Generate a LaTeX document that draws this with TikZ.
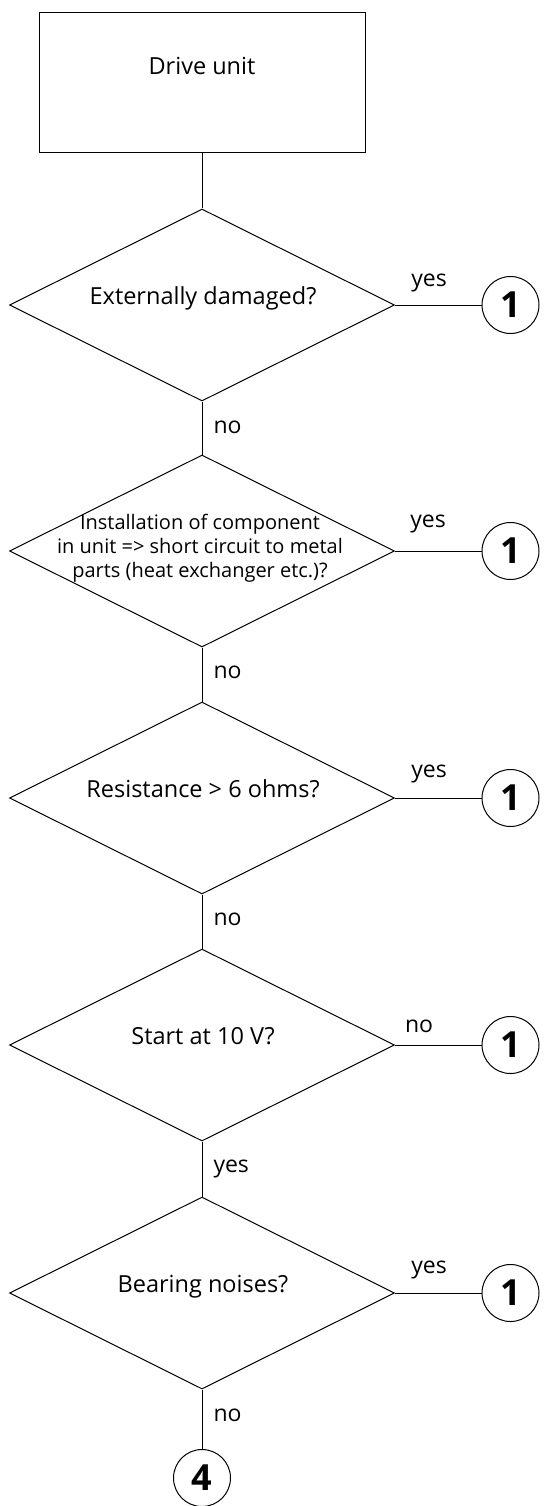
\documentclass[tikz,border=0pt]{standalone}
\usepackage{fontspec}
\setmainfont{Open Sans}
\usetikzlibrary{shapes.geometric}
\begin{document}
\begin{tikzpicture}[x=1pt,y=-1pt,line width=1pt,
  txt/.style={font=\fontsize{23.5}{27}\selectfont, inner sep=0pt},
  smalltxt/.style={font=\fontsize{20}{24}\selectfont, inner sep=0pt, align=center},
  decbox/.style={draw, diamond, minimum width=385pt, minimum height=192pt, inner sep=0pt},
  startbox/.style={draw, rectangle, minimum width=326pt, minimum height=140pt, inner sep=0pt},
  conn/.style={draw, circle, minimum size=57pt, inner sep=0pt, font=\bfseries\fontsize{36}{36}\selectfont},
  lbl/.style={font=\fontsize{23}{27}\selectfont, inner sep=0pt}
]
\useasboundingbox (0,0) rectangle (547,1506);

% start box
\node[startbox] (box) at (202,83) {};
\node[txt, anchor=base] (boxt) at (202,75) {Drive unit};

% decisions
\node[decbox] (d1) at (202,305) {};
\node[decbox] (d2) at (202,551) {};
\node[decbox] (d3) at (202,798) {};
\node[decbox] (d4) at (202,1045) {};
\node[decbox] (d5) at (202,1293) {};

\node[txt, anchor=base] (t1) at (203,304) {Externally damaged?};
\node[smalltxt, anchor=base] (t2) at (200,577) {Installation of component\\in unit => short circuit to metal\\parts (heat exchanger etc.)?};
\node[txt, anchor=base] (t3) at (203,797) {Resistance > 6 ohms?};
\node[txt, anchor=base] (t4) at (203,1044) {Start at 10 V?};
\node[txt, anchor=base] (t5) at (203,1292) {Bearing noises?};

% connectors to 1
\node[conn] (c1) at (510.5,305) {1};
\node[conn] (c2) at (510.5,551) {1};
\node[conn] (c3) at (510.5,798) {1};
\node[conn] (c4) at (510.5,1045) {1};
\node[conn] (c5) at (510.5,1293) {1};
\node[conn] (c6) at (202,1478) {4};

% lines
\draw (box.south) -- (d1.north);
\draw (d1.south) -- (d2.north);
\draw (d2.south) -- (d3.north);
\draw (d3.south) -- (d4.north);
\draw (d4.south) -- (d5.north);
\draw (d5.south) -- (c6.north);
\draw (d1.east) -- (c1.west);
\draw (d2.east) -- (c2.west);
\draw (d3.east) -- (c3.west);
\draw (d4.east) -- (c4.west);
\draw (d5.east) -- (c5.west);

% side labels
\node[lbl, anchor=base] (y1) at (429,286) {yes};
\node[lbl, anchor=base] (y2) at (428,527) {yes};
\node[lbl, anchor=base] (y3) at (429,777) {yes};
\node[lbl, anchor=base] (y4) at (419,1032) {no};
\node[lbl, anchor=base] (y5) at (429,1273) {yes};

% bottom labels
\node[lbl, anchor=base west] (n1) at (213,433) {no};
\node[lbl, anchor=base west] (n2) at (213,678) {no};
\node[lbl, anchor=base west] (n3) at (213,925) {no};
\node[lbl, anchor=base west] (n4) at (213,1172) {yes};
\node[lbl, anchor=base west] (n5) at (213,1421) {no};
\end{tikzpicture}
\end{document}
